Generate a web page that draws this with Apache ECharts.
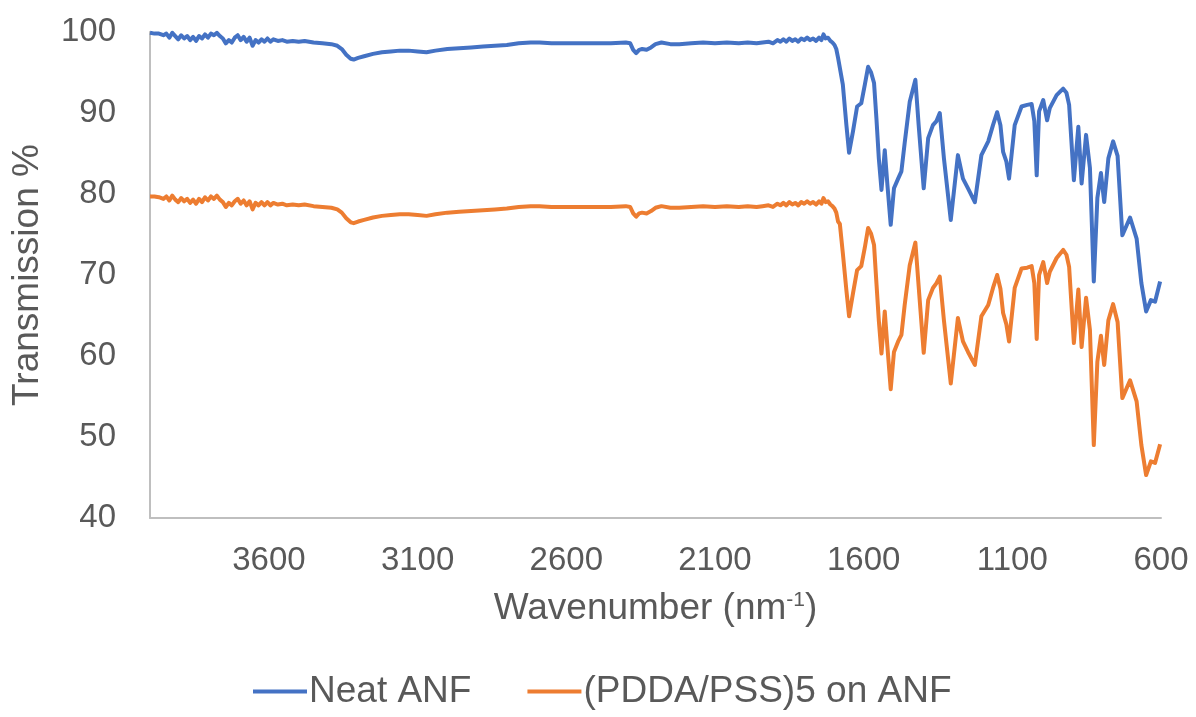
<!DOCTYPE html>
<html>
<head>
<meta charset="utf-8">
<title>FTIR</title>
<script src="https://cdn.jsdelivr.net/npm/echarts@6/dist/echarts.min.js"></script>
<style>
	html, body { margin: 0; padding: 0; background: #fff; }
	#main { width: 1196px; height: 717px; }
</style>
</head>
<body>
<div id="main"></div>
<script>
// wavenumber (cm-1) from left to right
var wavenumbers = [4000, 3985, 3970, 3955, 3945, 3935, 3925, 3915, 3905, 3895, 3885, 3875, 3865, 3855, 3845, 3835, 3825, 3815, 3805, 3795,
	3785, 3775, 3765, 3755, 3745, 3735, 3725, 3715, 3705, 3695, 3685, 3675, 3665, 3655, 3645, 3635, 3625, 3615, 3605, 3595,
	3585, 3570, 3555, 3540, 3520, 3500, 3480, 3450, 3420, 3390, 3370, 3355, 3340, 3325, 3315, 3300, 3280, 3250, 3220, 3190,
	3160, 3130, 3100, 3070, 3040, 3000, 2960, 2920, 2880, 2840, 2800, 2760, 2720, 2690, 2650, 2600, 2550, 2500, 2450, 2400,
	2385, 2375, 2365, 2355, 2345, 2330, 2315, 2300, 2280, 2250, 2220, 2180, 2140, 2100, 2060, 2020, 1990, 1960, 1940, 1920,
	1905, 1890, 1880, 1870, 1860, 1850, 1840, 1830, 1820, 1810, 1800, 1790, 1780, 1770, 1760, 1750, 1742, 1735, 1728, 1720,
	1712, 1705, 1698, 1692, 1686, 1680, 1670, 1658, 1649, 1636, 1622, 1608, 1596, 1585, 1575, 1565, 1557, 1549, 1540, 1529,
	1520, 1509, 1498, 1484, 1473, 1462, 1445, 1426, 1415, 1398, 1383, 1367, 1355, 1344, 1330, 1307, 1283, 1266, 1249, 1226,
	1204, 1181, 1165, 1151, 1140, 1131, 1120, 1111, 1092, 1069, 1050, 1035, 1026, 1018, 1010, 996, 983, 974, 951, 929,
	918, 909, 893, 878, 867, 852, 839, 826, 814, 802, 791, 777, 761, 746, 730, 704, 682, 666, 650, 634,
	620, 603];

var neatAnf = [99.9, 99.8, 99.8, 99.6, 99.8, 99.3, 99.9, 99.5, 99.1, 99.6, 99.2, 99.5, 99.0, 99.4, 98.9, 99.5, 99.2, 99.7, 99.3, 99.8,
	99.6, 99.9, 99.5, 99.2, 98.6, 99.0, 98.7, 99.3, 99.6, 99.0, 99.4, 98.8, 99.3, 98.3, 99.0, 98.7, 99.1, 98.8, 99.2, 98.8,
	99.1, 98.9, 99.0, 98.8, 98.9, 98.8, 98.9, 98.7, 98.6, 98.5, 98.3, 97.9, 97.2, 96.7, 96.6, 96.8, 97.0, 97.3, 97.5, 97.6,
	97.7, 97.7, 97.6, 97.5, 97.7, 97.9, 98.0, 98.1, 98.2, 98.3, 98.4, 98.6, 98.7, 98.7, 98.6, 98.6, 98.6, 98.6, 98.6, 98.7,
	98.6, 97.8, 97.4, 97.8, 97.9, 97.8, 98.1, 98.5, 98.7, 98.5, 98.5, 98.6, 98.7, 98.6, 98.7, 98.6, 98.7, 98.6, 98.7, 98.8,
	98.6, 99.0, 98.8, 99.1, 98.8, 99.2, 98.9, 99.1, 98.8, 99.2, 99.0, 99.3, 99.0, 99.2, 98.9, 99.3, 99.0, 99.7, 99.2, 99.3,
	98.9, 98.7, 98.4, 97.9, 96.8, 96.6, 93.5, 88.5, 85.1, 87.7, 90.8, 91.2, 93.5, 95.7, 95.0, 93.7, 89.3, 84.4, 80.5, 85.4,
	81.1, 76.2, 80.7, 81.9, 82.8, 86.3, 91.4, 94.1, 88.5, 80.7, 86.9, 88.5, 89.0, 90.0, 84.4, 76.8, 84.8, 81.9, 80.7, 79.0,
	84.8, 86.5, 88.5, 90.1, 88.5, 85.2, 84.0, 81.9, 88.5, 90.8, 91.0, 91.1, 89.0, 82.3, 90.2, 91.6, 89.1, 90.6, 92.2, 93.0,
	92.5, 91.0, 81.7, 88.3, 81.3, 87.3, 83.2, 69.2, 79.5, 82.6, 79.0, 84.4, 86.5, 84.7, 74.9, 77.1, 74.5, 69.0, 65.5, 66.9,
	66.7, 69.2];

var pddaPss = [79.7, 79.7, 79.6, 79.4, 79.7, 79.2, 79.8, 79.3, 79.0, 79.5, 79.1, 79.4, 78.9, 79.3, 78.8, 79.4, 79.0, 79.6, 79.2, 79.7,
	79.4, 79.8, 79.3, 79.0, 78.4, 78.9, 78.6, 79.1, 79.4, 78.8, 79.2, 78.6, 79.1, 78.1, 78.9, 78.6, 79.0, 78.6, 79.0, 78.6,
	78.9, 78.7, 78.8, 78.6, 78.7, 78.6, 78.7, 78.5, 78.4, 78.3, 78.1, 77.7, 77.0, 76.5, 76.4, 76.6, 76.8, 77.1, 77.3, 77.4,
	77.5, 77.5, 77.4, 77.3, 77.5, 77.7, 77.8, 77.9, 78.0, 78.1, 78.2, 78.4, 78.5, 78.5, 78.4, 78.4, 78.4, 78.4, 78.4, 78.5,
	78.4, 77.6, 77.2, 77.6, 77.7, 77.6, 77.9, 78.3, 78.5, 78.3, 78.3, 78.4, 78.5, 78.4, 78.5, 78.4, 78.5, 78.4, 78.5, 78.6,
	78.4, 78.8, 78.6, 78.9, 78.6, 79.0, 78.7, 78.9, 78.6, 79.0, 78.8, 79.1, 78.8, 79.0, 78.7, 79.1, 78.8, 79.5, 79.0, 79.1,
	78.7, 78.5, 78.2, 77.7, 76.6, 76.3, 72.7, 68.1, 64.9, 67.7, 70.6, 71.1, 73.4, 75.8, 75.1, 73.7, 69.0, 64.4, 60.3, 65.5,
	61.1, 55.9, 60.5, 61.8, 62.6, 66.3, 71.2, 74.0, 68.6, 60.4, 66.9, 68.4, 69.0, 69.8, 64.4, 56.6, 64.7, 61.8, 60.5, 58.9,
	64.9, 66.3, 68.4, 70.0, 68.3, 65.3, 63.9, 61.8, 68.4, 70.8, 70.9, 71.1, 69.0, 62.1, 70.0, 71.6, 69.0, 70.4, 72.1, 73.1,
	72.5, 71.0, 61.6, 68.2, 61.1, 67.2, 63.2, 49.0, 59.3, 62.5, 58.9, 64.4, 66.4, 64.2, 54.8, 57.0, 54.4, 49.0, 45.3, 47.0,
	46.8, 49.1];

var seriesNames = ["Neat ANF", "(PDDA/PSS)5 on ANF"];
var seriesColors = ["#4472C4", "#ED7D31"];

function toPairs(xs, ys) {
	var out = [];
	for(var i = 0; i < xs.length; i++) {
		out.push([xs[i], ys[i]]);
	}
	return out;
}

var textColor = "#595959";
var fontName = "'Liberation Sans', Arial, sans-serif";

var chart = echarts.init(document.getElementById("main"), null, { renderer: "canvas" });

chart.setOption({
	animation: false,
	backgroundColor: "#fff",
	textStyle: { fontFamily: fontName, color: textColor },
	grid: { left: 150, right: 35, top: 32, bottom: 199, containLabel: false },
	legend: {
		bottom: 2,
		left: 248,
		icon: "rect",
		itemWidth: 54,
		itemHeight: 4,
		itemGap: 56,
		textStyle: { fontSize: 37, color: textColor, fontFamily: fontName, padding: [0, 0, 0, -3] },
		data: seriesNames
	},
	xAxis: {
		type: "value",
		inverse: true,
		min: 600,
		max: 4000,
		interval: 500,
		name: "Wavenumber (nm{sup|-1})",
		nameLocation: "middle",
		nameGap: 72,
		nameTextStyle: {
			fontSize: 37,
			color: textColor,
			rich: { sup: { fontSize: 21, verticalAlign: "top", padding: [0, 0, 16, 0], color: textColor } }
		},
		axisLine: { lineStyle: { color: "#BFBFBF", width: 2 } },
		axisTick: { show: false },
		splitLine: { show: false },
		axisLabel: {
			fontSize: 33,
			color: textColor,
			margin: 26,
			formatter: function(v) {
				return v == 4000 ? "" : v;
			}
		}
	},
	yAxis: {
		type: "value",
		min: 40,
		max: 100,
		interval: 10,
		name: "Transmission %",
		nameLocation: "middle",
		nameGap: 104,
		nameTextStyle: { fontSize: 37, color: textColor },
		axisLine: { show: true, lineStyle: { color: "#BFBFBF", width: 2 } },
		axisTick: { show: false },
		splitLine: { show: false },
		axisLabel: { fontSize: 33, color: textColor, margin: 34 }
	},
	series: [{
		name: seriesNames[0],
		type: "line",
		symbol: "none",
		lineStyle: { width: 4, color: seriesColors[0], join: "round" },
		itemStyle: { color: seriesColors[0] },
		data: toPairs(wavenumbers, neatAnf)
	}, {
		name: seriesNames[1],
		type: "line",
		symbol: "none",
		lineStyle: { width: 4, color: seriesColors[1], join: "round" },
		itemStyle: { color: seriesColors[1] },
		data: toPairs(wavenumbers, pddaPss)
	}]
});
</script>
</body>
</html>
